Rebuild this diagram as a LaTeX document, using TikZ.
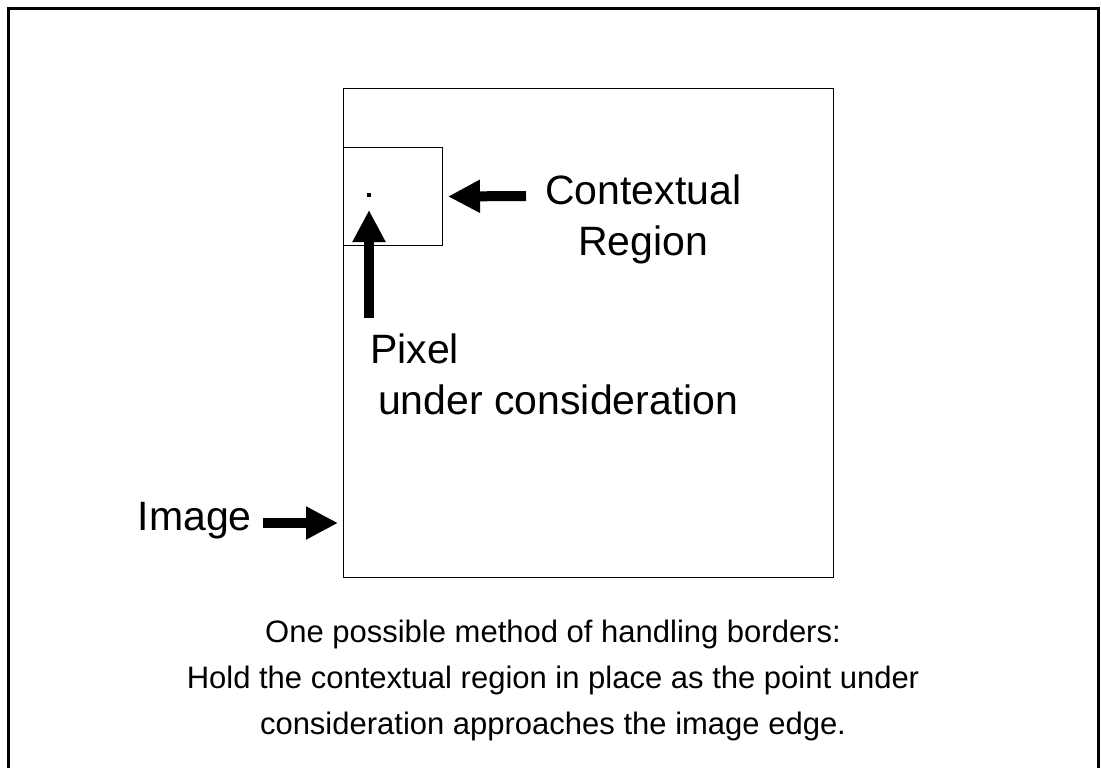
\documentclass[tikz,border=0pt]{standalone}
\usepackage{fontspec}
\setmainfont{Liberation Sans}
\usetikzlibrary{arrows.meta,positioning}

\begin{document}
\begin{tikzpicture}[x=1pt, y=-1pt,
		fatarrow/.style={line width=10pt, -{Triangle[width=31pt,length=32pt]}},
		bigtext/.style={font=\fontsize{41}{50}\selectfont, inner sep=0pt},
		captext/.style={font=\fontsize{31}{46}\selectfont, inner sep=0pt, anchor=base},
		box/.style={draw, line width=1pt, inner sep=0pt, anchor=north west}
		]
	\useasboundingbox (0,0) rectangle (1101,768);
	% frame
	\draw[line width=2.5pt] (8.5,770) -- (8.5,8.5) -- (1098.5,8.5) -- (1098.5,770);
	% image and contextual region
	\node [box, minimum width=490pt, minimum height=489pt] (image) at (343,88) {};
	\node [box, minimum width=99pt, minimum height=98pt] (region) at (343,147) {};
	\node [fill, inner sep=0pt, minimum size=3.5pt] (pixel) at (369,195) {};
	% labels
	\node [bigtext, anchor=base west] (ctx) at (545,204) {Contextual};
	\node [bigtext, anchor=base] (reg) at ([yshift=-51pt]ctx.base) {Region};
	\node [bigtext, anchor=base west] (pix) at (370,363) {Pixel};
	\node [bigtext, anchor=base west] (under) at ([xshift=8pt,yshift=-51pt]pix.base west) {under consideration};
	\node [bigtext, anchor=base east] (img) at (252,530) {Image};
	% arrows
	\coordinate (ctxtail) at (526,196);
	\coordinate (pixtail) at (369,318);
	\draw [fatarrow] (ctxtail) -- ([xshift=5pt]region.east);
	\draw [fatarrow] (pixtail) -- ([yshift=-15pt]pixel.center);
	\draw [fatarrow] ([xshift=11pt,yshift=7pt]img.base east) -- ([xshift=-5pt,yshift=7pt]img.base east -| image.west);
	% caption
	\node [captext] (cap1) at (553,642) {One possible method of handling borders:};
	\node [captext] (cap2) at ([yshift=-46pt]cap1.base) {Hold the contextual region in place as the point under};
	\node [captext] (cap3) at ([yshift=-46pt]cap2.base) {consideration approaches the image edge.};
\end{tikzpicture}
\end{document}
